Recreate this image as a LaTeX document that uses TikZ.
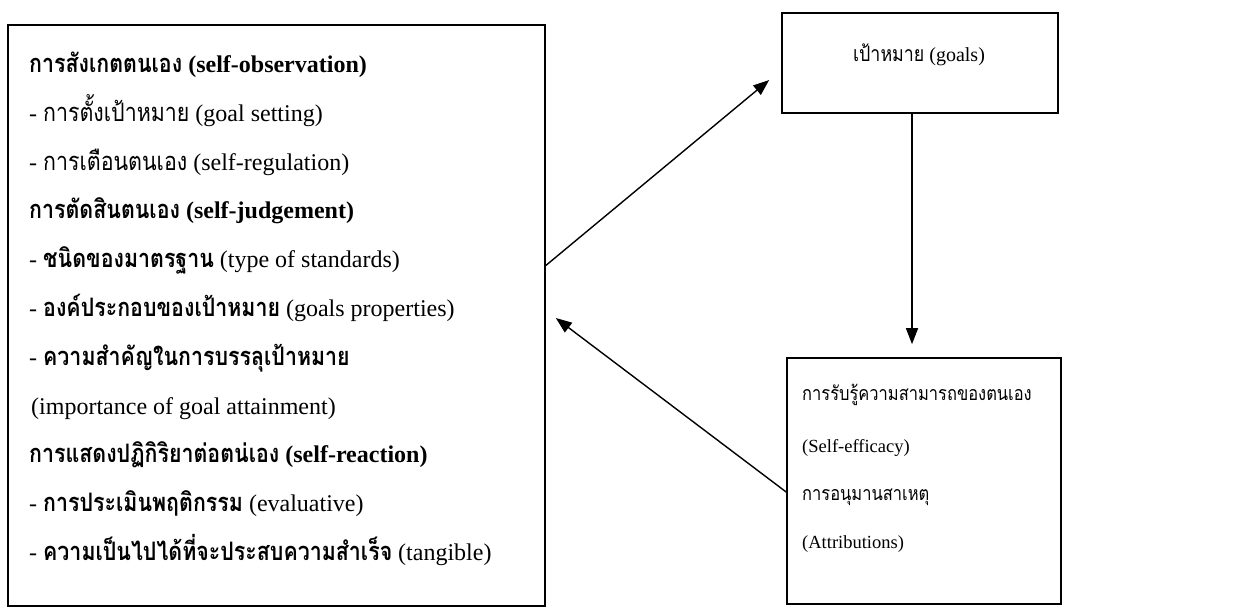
\documentclass[tikz,border=0pt]{standalone}
\usepackage{fontspec}
\setmainfont{Liberation Serif}
\newfontfamily\thaifont[Script=Thai,Scale=1.06,FakeStretch=0.84]{Loma}
\usetikzlibrary{arrows.meta}
\newcommand{\tf}[1]{{\thaifont #1}}

\begin{document}
\begin{tikzpicture}[x=1pt,y=-1pt]
  \tikzset{
    box/.style={
      draw=black,
      line width=1.6pt,
      inner sep=0pt
    },
    txt/.style={
      anchor=base west,
      inner sep=0pt,
      font=\fontsize{24}{28}\selectfont
    },
    smalltxt/.style={
      txt,
      font=\fontsize{18.5}{22}\selectfont
    },
    arr/.style={
      line width=1.4pt,
      -{Triangle[length=16pt,width=12pt]}
    }
  }
  \useasboundingbox (0,0) rectangle (1252,610);

  % the three boxes
  \node[box, minimum width=537pt, minimum height=581pt] (self) at (276.5,315.5) {};
  \node[box, minimum width=276pt, minimum height=100pt] (goals) at (920,63) {};
  \node[box, minimum width=274pt, minimum height=246pt] (eff) at (924,481) {};

  % left box text
  \node[txt] (obs) at (29,72) {\bfseries\tf{การสังเกตตนเอง} (self-observation)};
  \node[txt] (obsa) at (29,121) {- \tf{การตั้งเป้าหมาย} (goal setting)};
  \node[txt] (obsb) at (29,170) {- \tf{การเตือนตนเอง} (self-regulation)};
  \node[txt] (jud) at (29,218) {\bfseries\tf{การตัดสินตนเอง} (self-judgement)};
  \node[txt] (juda) at (29,267) {- {\bfseries\tf{ชนิดของมาตรฐาน}} (type of standards)};
  \node[txt] (judb) at (29,316) {- {\bfseries\tf{องค์ประกอบของเป้าหมาย}} (goals properties)};
  \node[txt] (judc) at (29,365) {- {\bfseries\tf{ความสำคัญในการบรรลุเป้าหมาย}}};
  \node[txt] (judd) at (31,414) {(importance of goal attainment)};
  \node[txt] (rea) at (29,462) {\bfseries\tf{การแสดงปฏิกิริยาต่อตน่เอง} (self-reaction)};
  \node[txt] (reaa) at (29,511) {- {\bfseries\tf{การประเมินพฤติกรรม}} (evaluative)};
  \node[txt] (reab) at (29,560) {- {\bfseries\tf{ความเป็นไปได้ที่จะประสบความสำเร็จ}} (tangible)};

  % goals text
  \node[txt, anchor=base, font=\fontsize{20}{24}\selectfont] (goalstxt) at (919,61) {\tf{เป้าหมาย} (goals)};

  % right box text
  \node[smalltxt] (efa) at (802,400) {\tf{การรับรู้ความสามารถของตนเอง}};
  \node[smalltxt] (efb) at (802,452) {(Self-efficacy)};
  \node[smalltxt] (efc) at (802,500) {\tf{การอนุมานสาเหตุ}};
  \node[smalltxt] (efd) at (802,548) {(Attributions)};

  % connectors
  \coordinate (togoals) at ([xshift=-12pt,yshift=-17pt]goals.west);
  \coordinate (toself) at ([xshift=10pt,yshift=-2.5pt]self.east);
  \draw[arr] ([yshift=50pt]self.east) -- (togoals);
  \draw[arr, shorten >=13pt] ([xshift=-8pt]goals.south) -- ([xshift=-12pt]eff.north);
  \draw[arr] ([yshift=-11pt]eff.west) -- (toself);
\end{tikzpicture}
\end{document}
